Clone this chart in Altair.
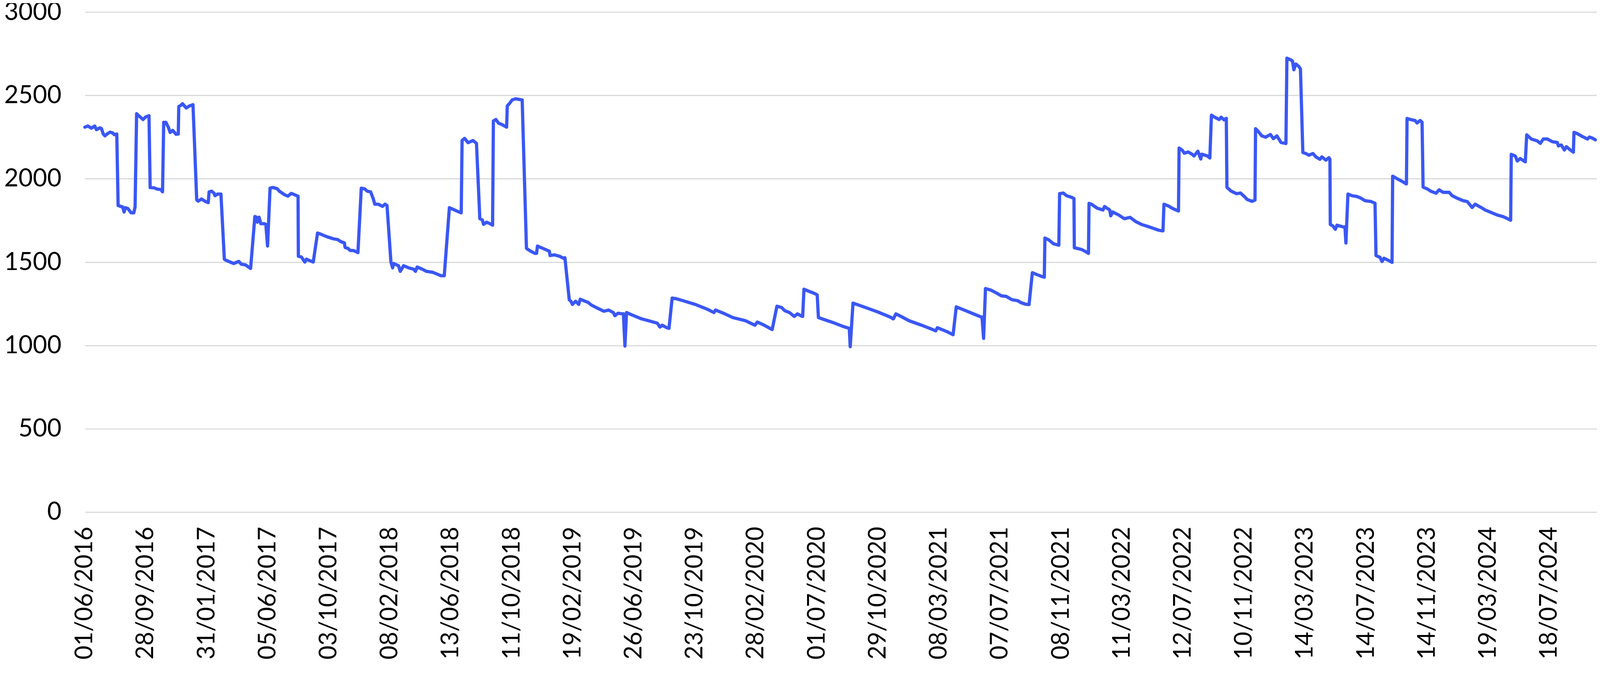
import json
import altair as alt
import pandas as pd

# Category labels shown on the x axis (one every label interval)
date_labels = [
    "01/06/2016", "28/09/2016", "31/01/2017", "05/06/2017", "03/10/2017",
    "08/02/2018", "13/06/2018", "11/10/2018", "19/02/2019", "26/06/2019",
    "23/10/2019", "28/02/2020", "01/07/2020", "29/10/2020", "08/03/2021",
    "07/07/2021", "08/11/2021", "11/03/2022", "12/07/2022", "10/11/2022",
    "14/03/2023", "14/07/2023", "14/11/2023", "19/03/2024", "18/07/2024",
]

y_ticks = [0, 500, 1000, 1500, 2000, 2500, 3000]

# Position along the category axis, in label intervals (0 = 01/06/2016)
x_pos = [
    0.000, 0.051, 0.107, 0.162, 0.190, 0.246, 0.273, 0.301, 0.329, 0.384,
    0.412, 0.454, 0.482, 0.523, 0.545, 0.620, 0.643, 0.662, 0.704, 0.759,
    0.801, 0.823, 0.848, 0.884, 0.954, 0.995, 1.051, 1.070, 1.134, 1.189,
    1.245, 1.273, 1.292, 1.328, 1.370, 1.398, 1.439, 1.495, 1.531, 1.539,
    1.578, 1.600, 1.661, 1.717, 1.772, 1.833, 1.856, 1.911, 1.967, 2.022,
    2.036, 2.078, 2.119, 2.133, 2.175, 2.230, 2.286, 2.300, 2.355, 2.439,
    2.522, 2.564, 2.633, 2.716, 2.786, 2.813, 2.827, 2.855, 2.883, 2.938,
    2.966, 2.994, 3.035, 3.077, 3.147, 3.188, 3.271, 3.327, 3.383, 3.466,
    3.494, 3.499, 3.549, 3.605, 3.632, 3.688, 3.743, 3.813, 3.854, 3.965,
    4.076,
    4.142, 4.197, 4.253, 4.266, 4.308, 4.350, 4.405, 4.475, 4.530, 4.586,
    4.627, 4.683, 4.724, 4.752, 4.808, 4.877, 4.919, 4.952, 5.016, 5.044,
    5.058, 5.141, 5.169, 5.224, 5.307, 5.391, 5.418, 5.446, 5.530, 5.599,
    5.696, 5.752, 5.835, 5.890, 5.974, 6.029, 6.085, 6.168, 6.182, 6.224,
    6.279, 6.362, 6.418, 6.473, 6.515, 6.534, 6.584, 6.640, 6.682, 6.695,
    6.737, 6.779, 6.834, 6.912, 6.923, 6.959, 7.001, 7.056, 7.112, 7.167,
    7.237, 7.251, 7.306, 7.376, 7.403, 7.417, 7.473, 7.556, 7.612, 7.625,
    7.695, 7.778, 7.848, 7.867,
    7.939, 7.965, 7.990, 8.042, 8.093, 8.119, 8.197, 8.248, 8.300, 8.403,
    8.506, 8.583, 8.661, 8.686, 8.738, 8.815, 8.826, 8.851, 8.877, 8.970,
    9.125, 9.279, 9.382, 9.424, 9.460, 9.537, 9.573, 9.625, 9.692, 9.795,
    10.001, 10.207, 10.310, 10.336, 10.465, 10.620, 10.826, 10.981, 11.022, 11.135,
    11.264, 11.342, 11.419, 11.471, 11.548, 11.625, 11.677, 11.754, 11.764, 11.785,
    11.857, 11.960, 12.002, 12.022, 12.115, 12.270, 12.424, 12.528, 12.543, 12.589,
    12.734, 12.992, 13.198, 13.250, 13.291, 13.353, 13.507, 13.713, 13.868, 13.945,
    13.971, 14.126, 14.229, 14.281, 14.384, 14.538, 14.693, 14.703, 14.729, 14.760,
    14.846, 14.941, 15.020, 15.099, 15.194, 15.290, 15.337, 15.417, 15.474, 15.528,
    15.607, 15.686, 15.724, 15.734, 15.797, 15.877, 15.962, 15.975, 16.035, 16.083,
    16.178, 16.210, 16.216, 16.337, 16.400, 16.448, 16.457, 16.495, 16.591, 16.686,
    16.711, 16.797, 16.813, 16.845, 16.940, 17.035, 17.130, 17.225, 17.320, 17.416,
    17.511, 17.606, 17.669, 17.685, 17.765, 17.828, 17.923, 17.933, 17.987, 18.018,
    18.082, 18.145, 18.177, 18.241, 18.288, 18.304, 18.399, 18.437, 18.463, 18.526,
    18.590, 18.622, 18.669, 18.707, 18.717, 18.780, 18.875, 18.939, 19.002, 19.050,
    19.129, 19.177, 19.186, 19.224, 19.288, 19.351, 19.430, 19.478, 19.535, 19.605,
    19.684, 19.700, 19.757,
    19.791, 19.814, 19.846, 19.896, 19.922, 19.961, 20.011, 20.060, 20.126, 20.175,
    20.241, 20.273, 20.339, 20.388, 20.405, 20.411, 20.454, 20.493, 20.520, 20.618,
    20.651, 20.667, 20.700, 20.766, 20.848, 20.914, 20.979, 21.078, 21.144, 21.160,
    21.226, 21.259, 21.291, 21.374, 21.423, 21.433, 21.505, 21.587, 21.653, 21.659,
    21.669, 21.735, 21.800, 21.833, 21.883, 21.915, 21.932, 21.998, 22.063, 22.145,
    22.194, 22.260, 22.359, 22.408, 22.490, 22.589, 22.655, 22.736, 22.786, 22.884,
    22.950, 23.049, 23.147, 23.246, 23.311, 23.367, 23.377, 23.443, 23.475, 23.524,
    23.607, 23.630, 23.705, 23.801, 23.853, 23.902, 23.968, 24.050, 24.132, 24.149,
    24.198, 24.247, 24.280, 24.329, 24.395, 24.405, 24.461, 24.543, 24.625, 24.658,
    24.707, 24.756,
]

price = [
    2309, 2316, 2303, 2316, 2294, 2305, 2300, 2268, 2257, 2273,
    2279, 2275, 2264, 2268, 1839, 1830, 1800, 1826, 1821, 1795,
    1795, 1830, 2390, 2377, 2355, 2370, 2378, 1947, 1945, 1937,
    1935, 1921, 2338, 2338, 2307, 2277, 2290, 2266, 2268, 2433,
    2441, 2450, 2424, 2437, 2444, 1873, 1865, 1878, 1865, 1856,
    1921, 1925, 1912, 1898, 1908, 1908, 1517, 1513, 1504, 1491,
    1504, 1487, 1483, 1461, 1773, 1769, 1739, 1769, 1730, 1730,
    1726, 1596, 1943, 1947, 1941, 1925, 1904, 1895, 1912, 1899,
    1895, 1535, 1530, 1500, 1517, 1508, 1500, 1674, 1669, 1652,
    1639,
    1635, 1622, 1615, 1587, 1583, 1569, 1569, 1556, 1943, 1939,
    1925, 1921, 1882, 1847, 1847, 1834, 1847, 1839, 1500, 1465,
    1491, 1478, 1444, 1478, 1465, 1457, 1444, 1470, 1457, 1444,
    1439, 1431, 1418, 1418, 1826, 1817, 1808, 1795, 2229, 2242,
    2216, 2229, 2212, 1760, 1752, 1726, 1739, 1730, 1721, 2346,
    2355, 2333, 2325, 2309, 2437, 2451, 2472, 2479, 2476, 2472,
    1583, 1578, 1565, 1552, 1552, 1596, 1587, 1574, 1565, 1539,
    1543, 1535, 1522, 1526,
    1273, 1265, 1246, 1265, 1246, 1277, 1265, 1258, 1242, 1223,
    1205, 1212, 1197, 1178, 1193, 1189, 1189, 996, 1197, 1182,
    1159, 1144, 1133, 1110, 1121, 1106, 1102, 1284, 1280, 1269,
    1246, 1216, 1197, 1212, 1193, 1167, 1148, 1121, 1140, 1121,
    1095, 1235, 1227, 1208, 1197, 1174, 1189, 1174, 1174, 1337,
    1326, 1311, 1303, 1167, 1155, 1136, 1114, 1102, 992, 1254,
    1235, 1201, 1170, 1159, 1189, 1178, 1148, 1121, 1099, 1087,
    1106, 1083, 1064, 1231, 1216, 1193, 1170, 1170, 1042, 1341,
    1332, 1314, 1297, 1294, 1274, 1268, 1257, 1247, 1245, 1436,
    1424, 1413, 1409, 1644, 1633, 1609, 1601, 1910, 1914, 1899,
    1887, 1881, 1586, 1575, 1563, 1552, 1852, 1847, 1823, 1812,
    1833, 1812, 1777, 1800, 1783, 1760, 1768, 1742, 1725, 1714,
    1702, 1690, 1687, 1847, 1835, 1821, 1806, 2184, 2170, 2153,
    2160, 2147, 2136, 2165, 2118, 2147, 2136, 2124, 2381, 2367,
    2355, 2369, 2353, 2362, 1948, 1927, 1910, 1914, 1893, 1875,
    1864, 1872, 2300, 2286, 2257, 2249, 2265, 2240, 2257, 2217,
    2211, 2723, 2714,
    2706, 2653, 2688, 2673, 2658, 2157, 2151, 2141, 2151, 2131,
    2116, 2131, 2111, 2126, 2116, 1726, 1716, 1696, 1721, 1711,
    1711, 1614, 1908, 1898, 1893, 1883, 1868, 1863, 1853, 1539,
    1528, 1503, 1523, 1508, 1498, 2015, 2000, 1984, 1969, 1969,
    2361, 2354, 2349, 2334, 2349, 2339, 1949, 1939, 1924, 1913,
    1933, 1918, 1918, 1898, 1883, 1868, 1863, 1827, 1847, 1827,
    1812, 1797, 1782, 1772, 1761, 1751, 2146, 2136, 2106, 2121,
    2101, 2263, 2238, 2227, 2212, 2238, 2238, 2222, 2217, 2197,
    2202, 2172, 2192, 2177, 2159, 2278, 2270, 2253, 2238, 2250,
    2243, 2233,
]

df = pd.DataFrame({"pos": x_pos, "price": price})

label_expr = json.dumps(date_labels) + "[datum.value]"
FONT = "Lato"

chart = (
    alt.Chart(df)
    .mark_line(color="#3a57f5", strokeWidth=8.5, strokeJoin="round", strokeCap="round")
    .encode(
        x=alt.X(
            "pos:Q",
            scale=alt.Scale(domain=[0, 24.78], nice=False, zero=False),
            axis=alt.Axis(
                values=list(range(len(date_labels))),
                labelExpr=label_expr,
                labelAngle=270,
                labelAlign="right",
                labelBaseline="middle",
                labelPadding=38,
                labelFont=FONT,
                labelFontSize=63,
                labelColor="#000000",
                labelLimit=0,
                labelOverlap=False,
                labelFlush=False,
                grid=False,
                ticks=False,
                domain=False,
                title="",
            ),
        ),
        y=alt.Y(
            "price:Q",
            scale=alt.Scale(domain=[0, 3000], nice=False, zero=True),
            axis=alt.Axis(
                values=y_ticks,
                format="d",
                grid=True,
                gridColor="#d9d9d9",
                gridWidth=3,
                ticks=False,
                domain=False,
                labelPadding=62,
                labelFont=FONT,
                labelFontSize=65,
                labelColor="#000000",
                labelLimit=0,
                labelOverlap=False,
                labelFlush=False,
                title="",
            ),
        ),
    )
    .properties(
        width=3977,
        height=1315,
        autosize=alt.AutoSizeParams(type="none"),
        padding={"left": 215, "top": 0, "right": 0, "bottom": 380},
        background="#ffffff",
    )
    .configure_view(stroke=None)
)

chart.save("out.html", embed_options={"renderer": "svg", "actions": False})
